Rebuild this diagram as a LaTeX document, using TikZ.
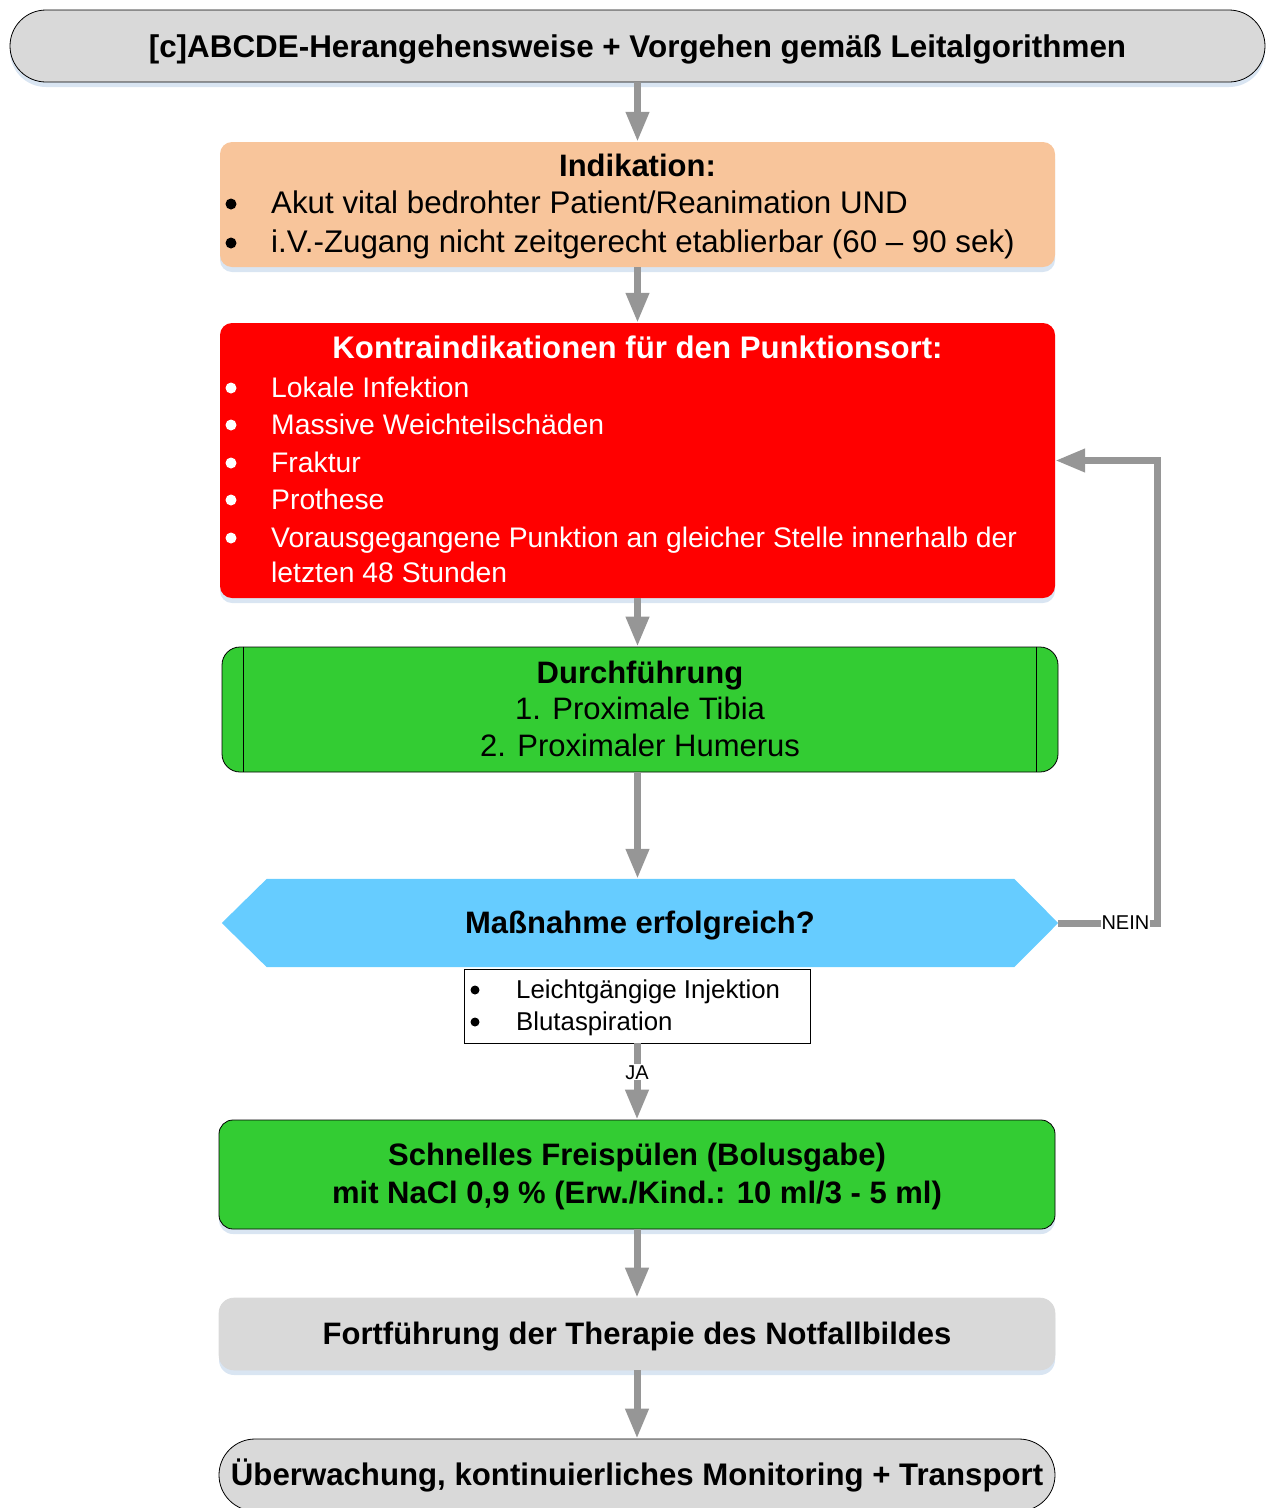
\documentclass[tikz,border=0pt]{standalone}
\usepackage{fontspec}
\setmainfont{Liberation Sans}
\usetikzlibrary{arrows.meta,shadows,calc}

\definecolor{boxgray}{HTML}{D9D9D9}
\definecolor{peach}{HTML}{F8C59B}
\definecolor{alarmred}{HTML}{FF0000}
\definecolor{okgreen}{HTML}{33CC33}
\definecolor{decblue}{HTML}{66CCFF}
\definecolor{flowgray}{HTML}{969696}
\definecolor{shadowblue}{HTML}{BFD3EA}

\newcommand\setfs[1]{\fontsize{#1}{#1}\selectfont}

\tikzset{
  box/.style={inner sep=0pt, rounded corners=12pt},
  shadowed/.style={drop shadow={shadow xshift=0pt, shadow yshift=-5pt, fill=shadowblue, opacity=0.6}},
  flow/.style={draw=flowgray, line width=7pt, -{Triangle[width=22pt,length=30pt]}},
  ctext/.style={anchor=base, inner sep=0pt},
  ltext/.style={anchor=base west, inner sep=0pt},
  dot/.style={circle, inner sep=0pt, minimum size=11pt, fill=#1},
  dot/.default=black,
  lbl/.style={fill=white, inner sep=1pt, font=\setfs{20}},
}

\begin{document}
\begin{tikzpicture}[x=1pt,y=-1pt]
\useasboundingbox (0,0) rectangle (1270,1508);

% ---- boxes ----
\node[box, fill=boxgray, draw=black, line width=0.8pt, rounded corners=36pt,
      minimum width=1255pt, minimum height=72pt, shadowed] (title) at (637.5,46) {};
\node[box, fill=peach, minimum width=835pt, minimum height=125pt, shadowed] (ind) at (637.5,204.5) {};
\node[box, fill=alarmred, minimum width=835pt, minimum height=275pt, shadowed] (kontra) at (637.5,460.5) {};
\node[box, fill=okgreen, draw=black, line width=0.8pt, rounded corners=18pt,
      minimum width=836pt, minimum height=125pt] (durch) at (640,709.5) {};
\draw[line width=0.8pt] ($(durch.north west)+(22,0)$) -- ($(durch.south west)+(22,0)$);
\draw[line width=0.8pt] ($(durch.north east)+(-22,0)$) -- ($(durch.south east)+(-22,0)$);

\node[inner sep=0pt, minimum width=836pt, minimum height=88pt] (dec) at (640,923) {};
\fill[decblue] (dec.west) -- ($(dec.north west)+(45,0)$) -- ($(dec.north east)+(-44,0)$)
  -- (dec.east) -- ($(dec.south east)+(-44,0)$) -- ($(dec.south west)+(45,0)$) -- cycle;

\node[inner sep=0pt, fill=white, draw=black, line width=0.6pt,
      minimum width=346pt, minimum height=74pt] (note) at (637,1006) {};

\node[box, fill=okgreen, draw=black, line width=0.8pt, rounded corners=14pt,
      minimum width=836pt, minimum height=109pt, shadowed] (schnell) at (637,1174.5) {};
\node[box, fill=boxgray, draw=black!15, line width=0.6pt, rounded corners=15pt,
      minimum width=836pt, minimum height=72pt, shadowed] (fort) at (637,1334) {};
\node[box, fill=boxgray, draw=black, line width=0.8pt, rounded corners=36pt,
      minimum width=836pt, minimum height=72pt] (ueber) at (637,1475) {};

% ---- texts ----
\node[ctext, font=\setfs{31.4}\bfseries] (t0) at (637.5,57)
  {[c]ABCDE-Herangehensweise + Vorgehen gemäß Leitalgorithmen};

\node[ctext, font=\setfs{31}\bfseries] (i0) at (637.5,176) {Indikation:};
\begin{scope}[font=\setfs{31.3}]
\node[dot] (ib1) at (231,204) {};
\node[ltext] (i1) at (271,213) {Akut vital bedrohter Patient/Reanimation UND};
\node[dot] (ib2) at (231,243) {};
\node[ltext] (i2) at (271,252) {i.V.-Zugang nicht zeitgerecht etablierbar (60 – 90 sek)};
\end{scope}

\node[ctext, font=\setfs{31.2}\bfseries, text=white] (k0) at (637.5,358.5) {Kontraindikationen für den Punktionsort:};
\begin{scope}[font=\setfs{28.3}, text=white]
\node[dot=white] (kb1) at (231,388) {};
\node[ltext] (k1) at (271,397) {Lokale Infektion};
\node[dot=white] (kb2) at (231,425) {};
\node[ltext] (k2) at (271,434) {Massive Weichteilschäden};
\node[dot=white] (kb3) at (231,463) {};
\node[ltext] (k3) at (271,472) {Fraktur};
\node[dot=white] (kb4) at (231,500) {};
\node[ltext] (k4) at (271,509) {Prothese};
\node[dot=white] (kb5) at (231,538) {};
\node[ltext] (k5) at (271,547) {Vorausgegangene Punktion an gleicher Stelle innerhalb der};
\node[ltext] (k6) at (271,582) {letzten 48 Stunden};
\end{scope}

\node[ctext, font=\setfs{31}\bfseries] (d0) at (640,683) {Durchführung};
\node[ctext, font=\setfs{31}] (d1) at (640,719) {1. Proximale Tibia};
\node[ctext, font=\setfs{31}] (d2) at (640,756) {2. Proximaler Humerus};

\node[ctext, font=\setfs{31}\bfseries] (q0) at (640,933) {Maßnahme erfolgreich?};

\begin{scope}[font=\setfs{25.8}]
\node[dot, minimum size=9pt] (nb1) at (475,990) {};
\node[ltext] (n1) at (516,998) {Leichtgängige Injektion};
\node[dot, minimum size=9pt] (nb2) at (475,1022) {};
\node[ltext] (n2) at (516,1030) {Blutaspiration};
\end{scope}

\node[ctext, font=\setfs{31}\bfseries] (s1) at (637,1165) {Schnelles Freispülen (Bolusgabe)};
\node[ctext, font=\setfs{31}\bfseries] (s2) at (637,1203) {mit NaCl 0,9 \% (Erw./Kind.: 10 ml/3 - 5 ml)};

\node[ctext, font=\setfs{31}\bfseries] (f0) at (637,1344) {Fortführung der Therapie des Notfallbildes};
\node[ctext, font=\setfs{31.2}\bfseries] (u0) at (637,1485) {Überwachung, kontinuierliches Monitoring + Transport};

% ---- connectors ----
\draw[flow] (title.south -| ind.north) -- (ind.north);
\draw[flow] (ind.south) -- (kontra.north);
\draw[flow] (kontra.south) -- (kontra.south |- durch.north);
\draw[flow] (durch.south -| kontra.south) -- (kontra.south |- dec.north);
\draw[flow] (note.south) -- node[lbl, pos=0.38] {JA} (note.south |- schnell.north);
\draw[flow] (schnell.south) -- (fort.north);
\draw[flow] (fort.south) -- (ueber.north);

\coordinate (loop) at (1157,923);
\draw[flow] (dec.east) -- node[lbl, pos=0.68, inner sep=0.5pt] {NEIN} (loop) |- (kontra.east);
\end{tikzpicture}
\end{document}
